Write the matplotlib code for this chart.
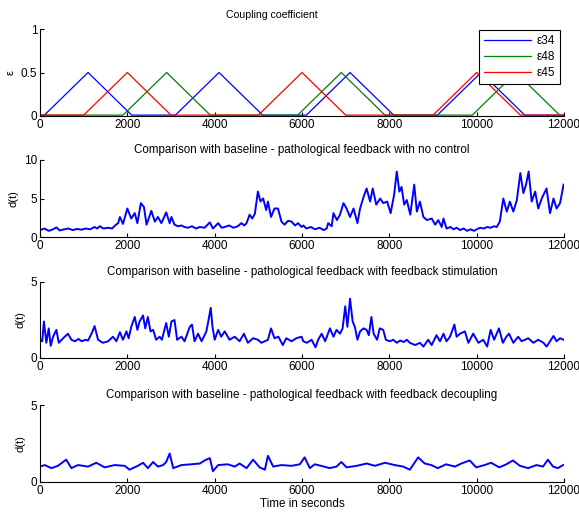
import matplotlib
matplotlib.use("Agg")
import matplotlib.pyplot as plt
import numpy as np

# coupling coefficients (breakpoints of the triangles)
t_e34 = [0, 100, 1100, 2100, 3100, 4100, 5100, 6100, 7100, 8100, 9100, 10100, 11100, 12000]
e34 = [0.01, 0.01, 0.5, 0.01, 0.01, 0.5, 0.01, 0.01, 0.5, 0.01, 0.01, 0.5, 0.01, 0.01]
t_e48 = [0, 1900, 2900, 3900, 5900, 6900, 7900, 9900, 10900, 11900, 12000]
e48 = [0.01, 0.01, 0.5, 0.01, 0.01, 0.5, 0.01, 0.01, 0.5, 0.01, 0.01]
t_e45 = [0, 1000, 2000, 3000, 5000, 6000, 7000, 9000, 10000, 11000, 12000]
e45 = [0.01, 0.01, 0.5, 0.01, 0.01, 0.5, 0.01, 0.01, 0.5, 0.01, 0.01]

# no control
t_nc = [0, 100, 200, 300, 375, 450, 550, 650, 750, 850, 950, 1050, 1150, 1250, 1310, 1370,
        1450, 1560, 1650, 1720, 1790, 1830, 1900, 2000, 2090, 2170, 2230, 2310, 2380, 2440,
        2550, 2630, 2700, 2780, 2890, 2970, 3010, 3080, 3160, 3240, 3310, 3390, 3480, 3570,
        3660, 3770, 3890, 3960, 4080, 4160, 4230, 4330, 4430, 4530, 4610, 4680, 4730, 4800,
        4860, 4920, 4990, 5050, 5110, 5180, 5220, 5290, 5370, 5450, 5530, 5600, 5680, 5760,
        5840, 5910, 5990, 6030, 6100, 6200, 6300, 6400, 6500, 6565, 6600, 6680, 6720, 6800,
        6870, 6950, 7020, 7100, 7180, 7270, 7330, 7410, 7480, 7560, 7620, 7700, 7790, 7860,
        7950, 8030, 8110, 8170, 8230, 8280, 8340, 8400, 8480, 8570, 8630, 8700, 8780, 8860,
        8970, 9050, 9120, 9200, 9240, 9310, 9400, 9470, 9540, 9620, 9700, 9780, 9860, 9940,
        10000, 10080, 10160, 10240, 10320, 10400, 10460, 10530, 10610, 10690, 10760, 10840,
        10920, 11000, 11070, 11130, 11190, 11260, 11340, 11410, 11490, 11600, 11680, 11760,
        11830, 11910, 11990]
d_nc = [0.9, 1.1, 0.8, 1.0, 1.25, 0.85, 1.0, 1.1, 0.9, 1.05, 0.95, 1.1, 1.0, 1.3, 1.1, 1.4,
        1.1, 1.2, 1.1, 1.5, 1.8, 2.6, 1.7, 3.7, 2.4, 3.1, 1.8, 4.4, 3.9, 1.6,
        3.4, 2.0, 2.6, 1.8, 3.2, 1.8, 2.6, 1.6, 1.4, 1.5, 1.3, 1.2, 1.4, 1.1,
        1.3, 1.2, 1.9, 1.1, 1.8, 1.2, 1.3, 1.5, 1.2, 1.4, 1.8, 1.5, 1.8, 2.9,
        2.4, 3.0, 5.9, 4.6, 5.0, 3.5, 4.6, 2.6, 3.7, 3.7, 2.0, 1.6, 2.1, 2.0,
        1.5, 1.8, 1.3, 1.5, 1.1, 1.3, 1.0, 1.2, 0.9, 1.1, 1.8, 1.4, 3.1, 2.2,
        2.9, 4.4, 3.7, 2.6, 3.7, 1.8, 3.7, 5.2, 6.3, 4.6, 6.3, 4.2, 5.0, 4.4,
        4.6, 3.1, 5.5, 8.5, 5.9, 6.5, 4.2, 4.8, 2.9, 6.8, 3.3, 4.6, 2.6, 2.2,
        2.4, 1.6, 2.2, 1.3, 2.4, 1.1, 1.3, 1.0, 1.2, 0.9, 1.1, 0.8, 1.0, 0.8,
        1.0, 1.2, 1.1, 1.3, 1.2, 1.4, 1.3, 2.0, 5.0, 3.3, 4.6, 3.3,
        4.8, 8.3, 5.7, 6.8, 8.5, 4.6, 5.9, 3.7, 5.0, 6.3, 3.1, 5.0,
        3.7, 4.4, 6.8]

# feedback stimulation
t_fs = [0, 50, 90, 145, 200, 245, 300, 375, 430, 530, 640, 720, 800, 880, 960, 1040, 1100,
        1180, 1250, 1330, 1440, 1560, 1670, 1750, 1830, 1900, 1980, 2030, 2090, 2170, 2230,
        2280, 2360, 2410, 2470, 2530, 2590, 2660, 2740, 2790, 2890, 2950, 3010, 3080, 3140,
        3240, 3310, 3430, 3480, 3540, 3620, 3700, 3810, 3860, 3910, 3950, 4000, 4080, 4150,
        4230, 4340, 4460, 4570, 4670, 4760, 4880, 4990, 5070, 5220, 5290, 5370, 5460, 5560,
        5640, 5760, 5870, 5990, 6030, 6110, 6220, 6310, 6370, 6450, 6530, 6640, 6720, 6790,
        6870, 6930, 6990, 7040, 7100, 7160, 7210, 7270, 7330, 7410, 7480, 7530, 7590, 7640,
        7720, 7780, 7860, 7920, 8010, 8090, 8170, 8250, 8330, 8400, 8470, 8590, 8700, 8780,
        8890, 8970, 9080, 9160, 9240, 9310, 9390, 9490, 9540, 9620, 9730, 9810, 9920, 10040,
        10150, 10240, 10320, 10400, 10510, 10600, 10680, 10740, 10840, 10950, 11030, 11180,
        11300, 11410, 11530, 11600, 11680, 11760, 11830, 11910, 11990]
d_fs = [1.2, 1.1, 2.4, 1.0, 1.95, 0.8, 1.4, 1.85, 1.0, 1.3, 1.6, 1.2, 1.1, 1.25, 1.1, 1.2, 1.15,
        1.6, 2.1, 1.2, 1.0, 1.1, 1.4, 1.1, 1.7, 1.2, 1.75, 1.3, 2.05, 2.7, 1.85,
        2.4, 2.8, 1.95, 2.7, 1.75, 1.85, 1.2, 1.4, 1.2, 2.3, 1.4, 2.4, 2.5, 1.2,
        1.4, 1.1, 2.05, 2.2, 1.1, 1.6, 1.1, 1.75, 2.5, 3.3, 2.05, 1.2, 1.85, 1.4,
        1.75, 1.2, 1.4, 1.1, 1.6, 1.0, 1.3, 1.2, 1.0, 1.2, 1.95, 1.3, 1.4, 0.85,
        1.3, 1.1, 1.3, 1.4, 1.1, 1.0, 1.2, 0.7, 1.2, 1.6, 1.1, 1.95, 1.4, 1.85,
        1.6, 1.95, 3.4, 2.05, 3.9, 2.4, 2.05, 1.2, 1.75, 1.95, 1.85, 1.5, 2.7, 1.6,
        1.2, 1.95, 1.85, 1.2, 1.1, 1.2, 1.0, 1.15, 1.05, 1.2, 1.0, 0.85, 1.0, 0.75,
        1.2, 0.85, 1.5, 1.1, 1.6, 1.1, 1.4, 2.2, 1.4, 1.6, 1.75, 1.0, 1.6, 1.0,
        1.2, 0.75, 1.85, 1.2, 1.95, 1.0, 1.4, 1.6, 1.0, 1.4, 1.1, 1.3,
        1.0, 1.2, 1.0, 0.75, 1.1, 1.45, 1.1, 1.3, 1.2]

# feedback decoupling
t_fd = [0, 110, 260, 410, 600, 720, 870, 1100, 1290, 1480, 1710, 1940, 2050, 2240, 2360,
        2470, 2590, 2700, 2820, 2890, 2970, 3050, 3240, 3470, 3660, 3770, 3890, 3960, 4080,
        4300, 4460, 4570, 4730, 4880, 5030, 5150, 5220, 5340, 5530, 5760, 5950, 6060, 6180,
        6290, 6440, 6630, 6790, 6900, 7020, 7250, 7480, 7670, 7900, 8120, 8320, 8470, 8660,
        8810, 8960, 9110, 9300, 9500, 9650, 9840, 9990, 10180, 10330, 10520, 10680, 10830,
        10990, 11180, 11370, 11520, 11630, 11750, 11860, 11980]
d_fd = [1.0, 1.1, 0.9, 1.05, 1.45, 0.9, 1.1, 1.0, 1.25, 0.95, 1.1, 1.05, 0.8, 1.05, 1.25,
        0.9, 1.3, 1.0, 1.1, 1.3, 1.85, 0.9, 1.1, 1.15, 1.2, 1.4, 1.55, 0.7, 1.1,
        1.15, 1.0, 1.2, 0.9, 1.45, 0.95, 0.8, 1.7, 1.0, 1.1, 1.05, 1.15, 1.6, 0.9,
        1.15, 1.05, 0.9, 1.0, 1.3, 0.95, 1.05, 1.2, 1.05, 1.25, 1.1, 1.0, 0.8, 1.6,
        1.2, 1.1, 0.9, 1.15, 1.0, 1.2, 1.4, 0.95, 1.1, 1.25, 0.95, 1.15, 1.4,
        1.05, 0.9, 1.1, 1.0, 1.45, 1.0, 0.9, 1.1]

titles = ["Coupling coefficient",
          "Comparison with baseline - pathological feedback with no control",
          "Comparison with baseline - pathological feedback with feedback stimulation",
          "Comparison with baseline - pathological feedback with feedback decoupling"]

plt.rcParams['font.family'] = ['Liberation Sans', 'DejaVu Sans']
plt.rcParams['font.size'] = 8

fig = plt.figure(figsize=(5.79, 5.17), dpi=100)
W, H = 579.0, 517.0
boxes = [(29, 116), (160, 237), (282, 358), (405, 482)]
axes = []
for top, bot in boxes:
    ax = fig.add_axes([40 / W, (H - bot) / H, 524 / W, (bot - top) / H])
    axes.append(ax)

for ax, title in zip(axes, titles):
    ax.set_xlim(0, 12000)
    ax.set_xticks(np.arange(0, 12001, 2000))
    ax.spines['top'].set_visible(False)
    ax.spines['right'].set_visible(False)
    ax.tick_params(direction='in', length=3, labelsize=8.5, pad=2)
    if ax is axes[0]:
        ax.set_title(title, fontsize=7.6, pad=8, x=0.443)
    else:
        ax.set_title(title, fontsize=8.4, pad=5)

ax = axes[0]
ax.plot(t_e34, e34, color='#0000ff', lw=0.9, label='\u03b534')
ax.plot(t_e48, e48, color='#008000', lw=0.9, label='\u03b548')
ax.plot(t_e45, e45, color='#ff0000', lw=0.9, label='\u03b545')
ax.set_ylim(0, 1)
ax.set_yticks([0, 0.5, 1])
ax.set_yticklabels(['0', '0.5', '1'])
ax.set_ylabel('\u03b5', labelpad=4)
leg = ax.legend(loc='upper right', bbox_to_anchor=(0.995, 1.0), fancybox=False,
                framealpha=1, edgecolor='black', handlelength=4.0, fontsize=8.5,
                borderaxespad=0.1, labelspacing=0.35, handletextpad=0.5)
leg.get_frame().set_linewidth(0.8)

series = [(t_nc, d_nc, 10), (t_fs, d_fs, 5), (t_fd, d_fd, 5)]
for ax, (t, d, top) in zip(axes[1:], series):
    ax.plot(t, d, color='#0000ff', lw=1.4)
    ax.set_ylim(0, top)
    ax.set_yticks([0, top / 2, top] if top == 10 else [0, top])
    ax.set_ylabel('d(t)', labelpad=4)

axes[3].set_xlabel('Time in seconds', labelpad=1, fontsize=8.4)

fig.savefig('out.png', dpi=100)
